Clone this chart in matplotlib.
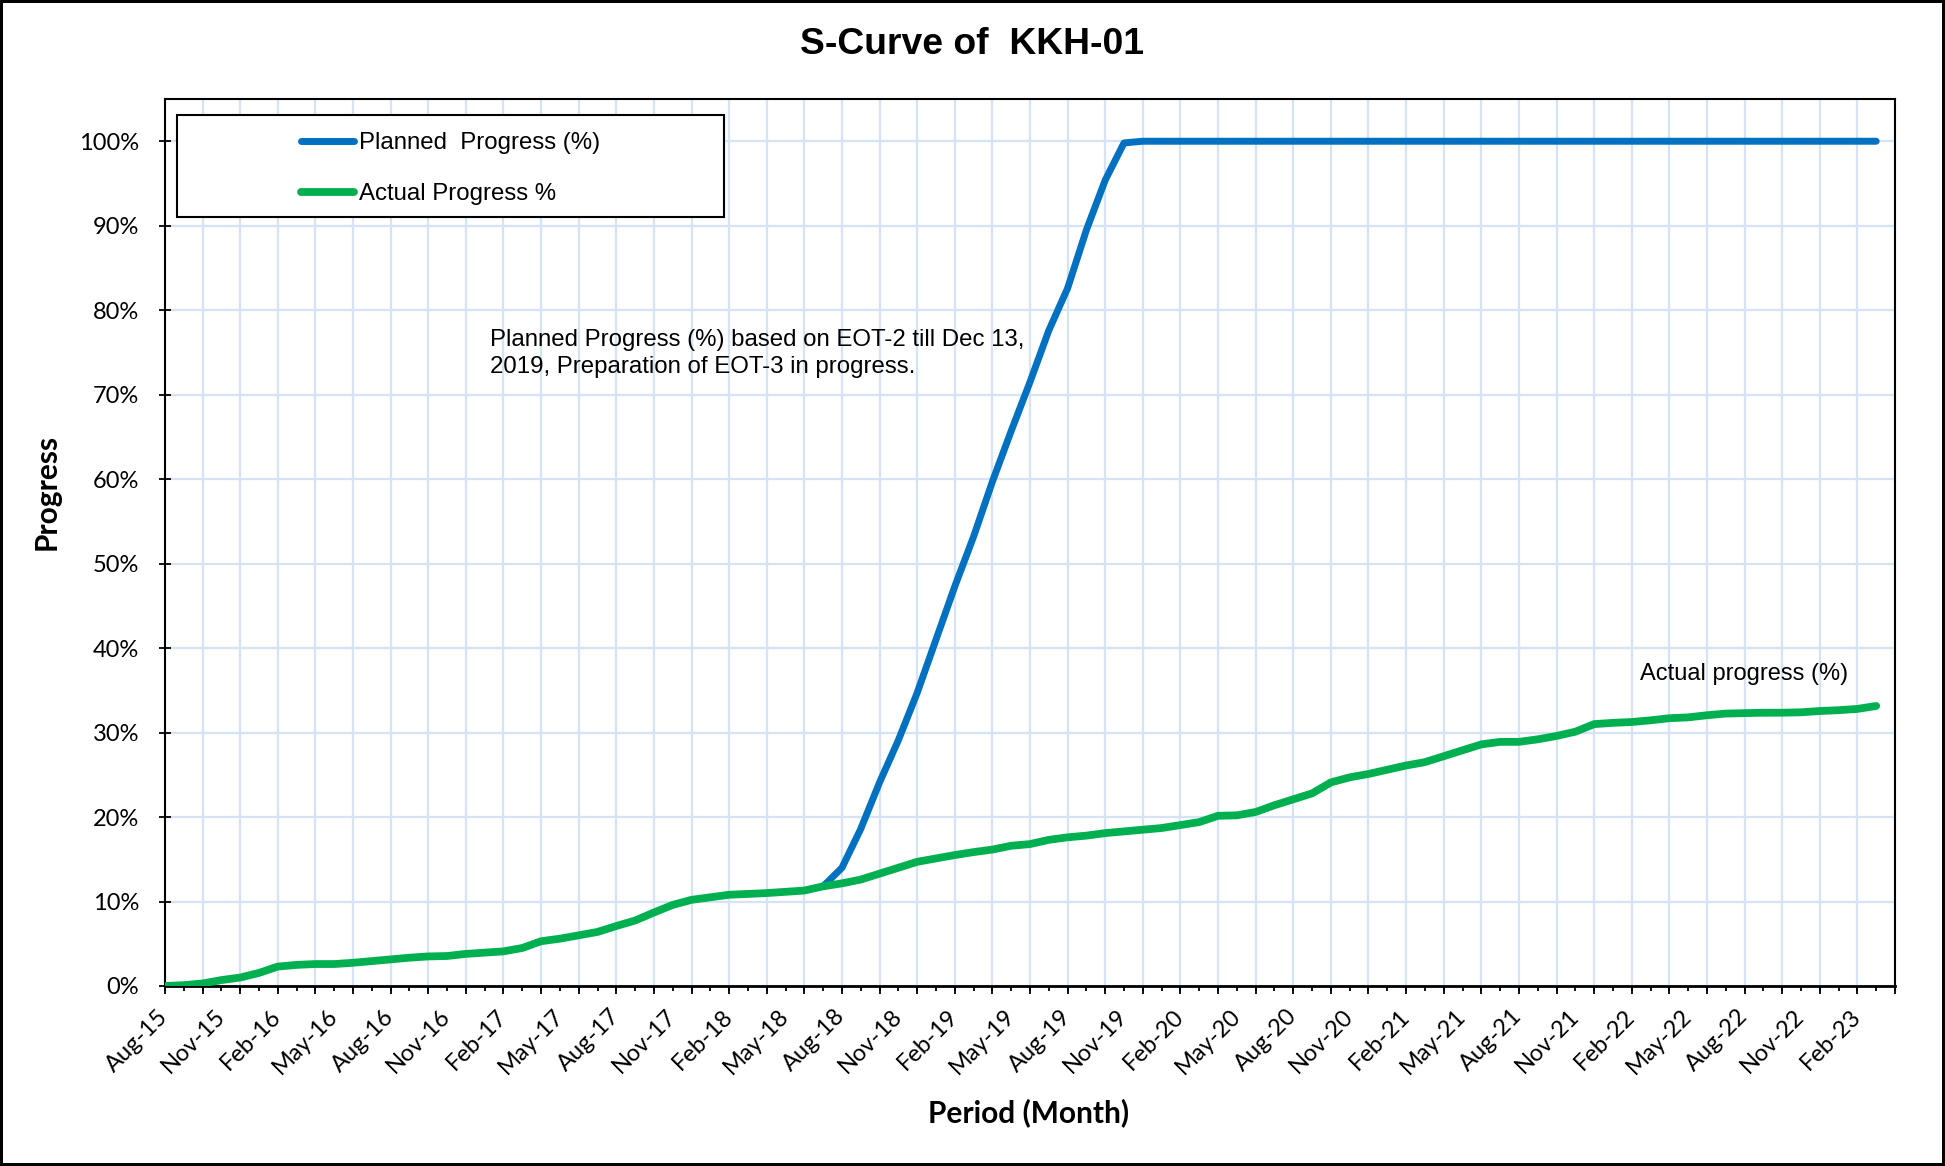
import matplotlib
matplotlib.use("Agg")
import matplotlib.pyplot as plt
import matplotlib.ticker as mticker
from matplotlib.patches import Rectangle
from matplotlib.lines import Line2D
import numpy as np
import pandas as pd

# monthly periods, Aug-15 .. Mar-23
months = pd.date_range("2015-08-01", "2023-03-01", freq="MS")
month_labels = list(months.strftime("%b-%y"))

# actual progress (%) per month
actual_pct = [
    0.0, 0.1, 0.3, 0.7, 1.0, 1.55, 2.3, 2.5, 2.6, 2.6,
    2.75, 2.95, 3.15, 3.35, 3.5, 3.55, 3.8, 3.95, 4.1, 4.5,
    5.3, 5.6, 6.0, 6.4, 7.1, 7.75, 8.7, 9.6, 10.2, 10.5,
    10.8, 10.9, 11.0, 11.15, 11.3, 11.8, 12.15, 12.6, 13.3, 14.0,
    14.7, 15.1, 15.5, 15.85, 16.15, 16.6, 16.8, 17.3, 17.6, 17.8,
    18.1, 18.3, 18.5, 18.7, 19.05, 19.4, 20.15, 20.2, 20.6, 21.4,
    22.1, 22.8, 24.1, 24.7, 25.1, 25.6, 26.1, 26.5, 27.2, 27.9,
    28.6, 28.9, 28.9, 29.2, 29.6, 30.1, 31.0, 31.15, 31.25, 31.45,
    31.7, 31.8, 32.05, 32.25, 32.3, 32.35, 32.35, 32.4, 32.55, 32.65,
    32.8, 33.15,
]

# planned progress (%) from Jul-18 on (before that it sits under the actual line)
planned_start = "Jul-18"
planned_pct = [
    11.8, 14.0, 18.6, 24.1, 29.1, 34.7, 41.0, 47.3, 53.2, 59.7,
    65.7, 71.5, 77.6, 82.6, 89.5, 95.4, 99.8, 100.0, 100.0, 100.0,
    100.0, 100.0, 100.0, 100.0, 100.0, 100.0, 100.0, 100.0, 100.0, 100.0,
    100.0, 100.0, 100.0, 100.0, 100.0, 100.0, 100.0, 100.0, 100.0, 100.0,
    100.0, 100.0, 100.0, 100.0, 100.0, 100.0, 100.0, 100.0, 100.0, 100.0,
    100.0, 100.0, 100.0, 100.0, 100.0, 100.0, 100.0,
]

BLUE = "#0070C0"
GREEN = "#00B050"
GRID = "#D6E3F4"
ARIAL = "Liberation Sans"
CALIBRI = "Lato"
LW_BLUE = 5.0
LW_GREEN = 5.6

x_all = np.arange(len(months))
i0 = month_labels.index(planned_start)
x_planned = x_all[i0:i0 + len(planned_pct)]

fig = plt.figure(figsize=(19.45, 11.66), dpi=100)
fig.patch.set_edgecolor("black")
fig.patch.set_linewidth(3)
ax = fig.add_axes([165 / 1945, 1 - 986 / 1166, 1730 / 1945, 887 / 1166])

ax.plot(x_planned, np.array(planned_pct) / 100, color=BLUE, lw=LW_BLUE,
        solid_capstyle="round", solid_joinstyle="round", zorder=3)
ax.plot(x_all, np.array(actual_pct) / 100, color=GREEN, lw=LW_GREEN,
        solid_capstyle="round", solid_joinstyle="round", zorder=4)

ax.set_xlim(0, 92)
ax.set_ylim(0, 1.05)

# x axis: gridlines/long ticks every 2 months, short ticks monthly, labels every 3 months
ax.xaxis.remove_overlapping_locs = False
ax.xaxis.set_major_locator(mticker.MultipleLocator(2))
ax.xaxis.set_major_formatter(mticker.NullFormatter())
ax.xaxis.set_minor_locator(mticker.MultipleLocator(1))


def month_fmt(v, pos):
    i = int(round(v))
    if i % 3 == 0 and 0 <= i < len(month_labels):
        return month_labels[i]
    return ""


ax.xaxis.set_minor_formatter(mticker.FuncFormatter(month_fmt))
ax.tick_params(axis="x", which="major", direction="out", length=6, width=1.3, color="black")
ax.tick_params(axis="x", which="minor", direction="out", length=3.5, width=1.3, color="black",
               pad=16, labelsize=17, labelrotation=45)
for lab in ax.get_xticklabels(minor=True):
    lab.set_ha("right")
    lab.set_va("center")
    lab.set_rotation_mode("anchor")
    lab.set_fontfamily(CALIBRI)

ax.set_yticks(np.arange(0, 1.01, 0.1))
ax.yaxis.set_major_formatter(mticker.PercentFormatter(1.0, decimals=0))
ax.tick_params(axis="y", which="major", direction="inout", length=9, width=1.3,
               pad=14, labelsize=17)
for lab in ax.get_yticklabels():
    lab.set_fontfamily(CALIBRI)

ax.grid(which="major", axis="both", color=GRID, lw=1.6, zorder=0)
ax.set_axisbelow(True)
for sp in ax.spines.values():
    sp.set_color("black")
    sp.set_linewidth(1.5)
ax.spines["bottom"].set_linewidth(2)

# legend: centered entries inside a wide frame
leg_box = (0.0069, 0.867, 0.316, 0.115)
ax.add_patch(Rectangle(leg_box[:2], leg_box[2], leg_box[3], transform=ax.transAxes,
                       facecolor="white", edgecolor="black", lw=1.5, zorder=5))
handles = [
    Line2D([], [], color=BLUE, lw=LW_BLUE, solid_capstyle="round"),
    Line2D([], [], color=GREEN, lw=LW_GREEN, solid_capstyle="round"),
]
leg = ax.legend(handles, ["Planned  Progress (%)", "Actual Progress %"],
                loc="center", bbox_to_anchor=(leg_box[0] + leg_box[2] / 2, leg_box[1] + leg_box[3] / 2 - 0.003),
                frameon=False, handlelength=2.2, handletextpad=0.2, labelspacing=1.2,
                prop={"family": ARIAL, "size": 17.3})
leg.set_zorder(6)

ax.text(0.188, 0.713,
        "Planned Progress (%) based on EOT-2 till Dec 13,\n2019, Preparation of EOT-3 in progress.",
        transform=ax.transAxes, ha="left", va="center", fontsize=17.3, family=ARIAL,
        linespacing=1.3, zorder=6)
ax.text(0.9127, 0.3517, "Actual progress (%)", transform=ax.transAxes, ha="center", va="center",
        fontsize=17, family=ARIAL, zorder=6)

fig.text(0.5, 1 - 45 / 1166, "S-Curve of  KKH-01", ha="center", va="center",
         fontsize=26.8, fontweight="bold", family=ARIAL)
fig.text(47 / 1945, 1 - 492 / 1166, "Progress", ha="center", va="center", rotation=90,
         fontsize=21.5, fontweight="bold", family=CALIBRI)
fig.text(1029 / 1945, 1 - 1113 / 1166, "Period (Month)", ha="center", va="center",
         fontsize=21.5, fontweight="bold", family=CALIBRI)

fig.savefig("out.png", dpi=100, edgecolor=fig.get_edgecolor())
